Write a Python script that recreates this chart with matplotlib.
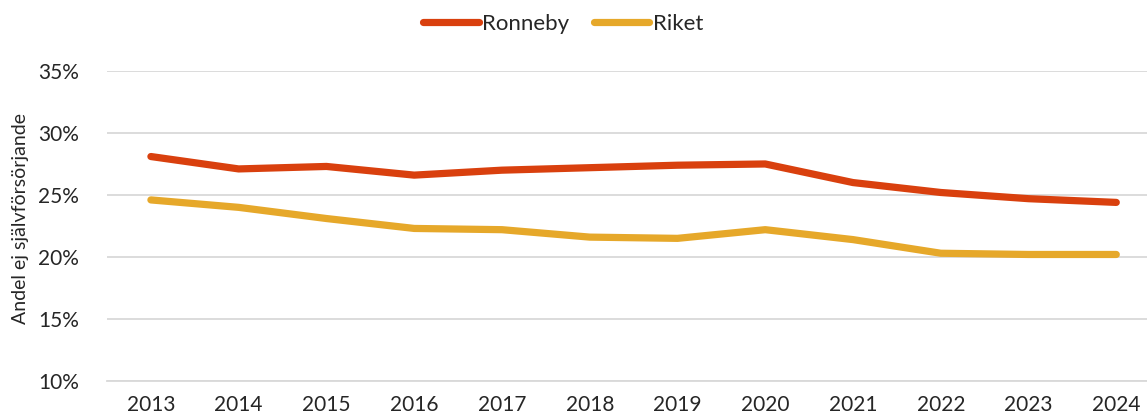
import matplotlib
matplotlib.use("Agg")
import matplotlib.pyplot as plt
from matplotlib.ticker import FuncFormatter

years = [2013, 2014, 2015, 2016, 2017, 2018, 2019, 2020, 2021, 2022, 2023, 2024]
ronneby = [28.1, 27.1, 27.3, 26.6, 27.0, 27.2, 27.4, 27.5, 26.0, 25.2, 24.7, 24.4]
riket = [24.6, 24.0, 23.1, 22.3, 22.2, 21.6, 21.5, 22.2, 21.4, 20.3, 20.2, 20.2]

plt.rcParams["font.family"] = ["Lato", "DejaVu Sans"]
text_color = "#262626"

fig = plt.figure(figsize=(11.47, 4.2), dpi=100)
ax = fig.add_axes([0.0933, 0.093, 0.9067, 0.738])

ax.plot(years, ronneby, color="#D9400E", lw=5.2, solid_capstyle="round", label="Ronneby", zorder=3)
ax.plot(years, riket, color="#E6A82A", lw=5.2, solid_capstyle="round", label="Riket", zorder=3)

ax.set_ylim(10, 35)
ax.set_yticks([10, 15, 20, 25, 30, 35])
ax.yaxis.set_major_formatter(FuncFormatter(lambda v, p: f"{v:.0f}%"))
ax.set_xlim(2012.5, 2024.35)
ax.set_xticks(years)

ax.grid(axis="y", color="#D9D9D9", lw=1.3, zorder=0)
for s in ["top", "right", "left"]:
    ax.spines[s].set_visible(False)
ax.spines["bottom"].set_color("#D9D9D9")
ax.spines["bottom"].set_linewidth(1.3)
ax.tick_params(axis="both", length=0, labelsize=15, colors=text_color)
ax.tick_params(axis="y", pad=20)
ax.tick_params(axis="x", pad=10)

fig.text(0.018, 0.48, "Andel ej självförsörjande", rotation=90, va="center", ha="center",
         fontsize=14, color=text_color)

fig.legend(loc="upper center", bbox_to_anchor=(0.491, 1.015), ncol=2, frameon=False,
           fontsize=16, handlelength=2.5, handletextpad=0.15, columnspacing=1.1,
           labelcolor=text_color)

fig.savefig("out.png", dpi=100)
